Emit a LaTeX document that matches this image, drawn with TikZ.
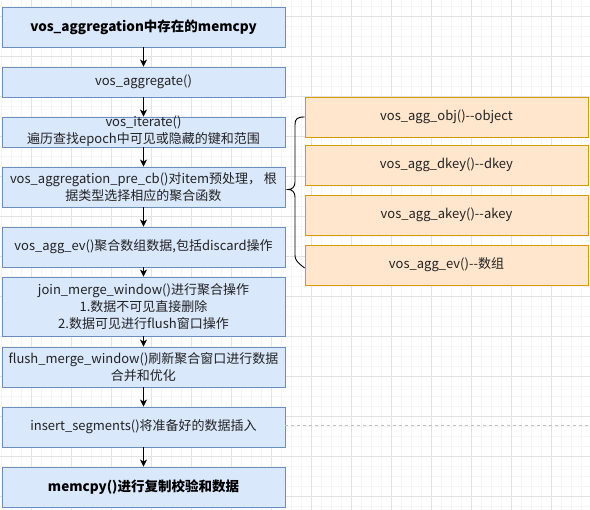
\documentclass[tikz,border=0pt]{standalone}
\usepackage{fontspec}
\setmainfont{Noto Sans CJK SC}
\usetikzlibrary{arrows.meta}
\definecolor{bfill}{HTML}{DAE8FC}
\definecolor{bdraw}{HTML}{6C8EBF}
\definecolor{ofill}{HTML}{FFE6CC}
\definecolor{odraw}{HTML}{D79B00}
\definecolor{gmajor}{HTML}{E2E2E2}
\definecolor{gminor}{HTML}{F5F5F5}
\definecolor{txtc}{HTML}{222222}
\tikzset{
  bluebox/.style={draw=bdraw, fill=bfill, line width=0.9pt, minimum width=283pt, inner sep=0pt},
  orangebox/.style={draw=odraw, fill=ofill, line width=0.9pt, minimum width=283pt, minimum height=40pt, inner sep=0pt},
  txt/.style={text=txtc, font=\fontsize{13}{16.8}\selectfont, align=center, inner sep=0pt},
  ttl/.style={text=black, font=\fontsize{13.5}{17}\selectfont\bfseries, align=center, inner sep=0pt},
  flow/.style={-{Stealth[length=7pt,width=7pt,inset=2pt]}, line width=0.9pt, black},
  brace/.style={draw=black, line width=0.9pt},
  guide/.style={draw=black!25, dashed, dash pattern=on 3pt off 3pt, line width=0.7pt}
}
\begin{document}
\begin{tikzpicture}[x=1pt,y=-1pt]
\fill[white] (0,0) rectangle (590,510);
\useasboundingbox (0,0) rectangle (590,510);
% grid
\foreach \i in {1,11,...,581} \draw[gminor, line width=0.8pt] (\i,0) -- (\i,510);
\foreach \j in {6,16,...,506} \draw[gminor, line width=0.8pt] (0,\j) -- (590,\j);
\foreach \i in {31,71,...,591} \draw[gmajor, line width=0.8pt] (\i,0) -- (\i,510);
\foreach \j in {16,56,...,496} \draw[gmajor, line width=0.8pt] (0,\j) -- (590,\j);

% left column
\node[bluebox, minimum height=40pt] (b1) at (143.5,27) {};
\node[bluebox, minimum height=30pt] (b2) at (143.5,82) {};
\node[bluebox, minimum height=30pt] (b3) at (143.5,132) {};
\node[bluebox, minimum height=40pt] (b4) at (143.5,187) {};
\node[bluebox, minimum height=40pt] (b5) at (143.5,247) {};
\node[bluebox, minimum height=59pt] (b6) at (143.5,306.5) {};
\node[bluebox, minimum height=40pt] (b7) at (143.5,367) {};
\node[bluebox, minimum height=40pt] (b8) at (143.5,427) {};
\node[bluebox, minimum height=40pt] (b9) at (143.5,487) {};

\node[ttl] (t1) at (b1) {vos\_aggregation中存在的memcpy};
\node[txt] (t2) at (b2) {vos\_aggregate()};
\node[txt] (t3) at ([yshift=0.5pt]b3.center) {vos\_iterate()\\遍历查找epoch中可见或隐藏的键和范围};
\node[txt] (t4) at (b4) {vos\_aggregation\_pre\_cb()对item预处理， 根\\据类型选择相应的聚合函数};
\node[txt] (t5) at (b5) {vos\_agg\_ev()聚合数组数据,包括discard操作};
\node[txt] (t6) at (b6) {join\_merge\_window()进行聚合操作\\1.数据不可见直接删除\\2.数据可见进行flush窗口操作};
\node[txt] (t7) at (b7) {flush\_merge\_window()刷新聚合窗口进行数据\\合并和优化};
\node[txt] (t8) at (b8) {insert\_segments()将准备好的数据插入};
\node[ttl] (t9) at (b9) {memcpy()进行复制校验和数据};

% right column
\node[orangebox] (o1) at (446.5,117) {};
\node[orangebox] (o2) at (446.5,165) {};
\node[orangebox] (o3) at (446.5,215) {};
\node[orangebox] (o4) at (446.5,265) {};
\node[txt] at (o1) {vos\_agg\_obj()-{}-object};
\node[txt] at (o2) {vos\_agg\_dkey()-{}-dkey};
\node[txt] at (o3) {vos\_agg\_akey()-{}-akey};
\node[txt] at (o4) {vos\_agg\_ev()-{}-数组};

% arrows
\draw[flow] (b1) -- (b2);
\draw[flow] (b2) -- (b3);
\draw[flow] (b3) -- (b4);
\draw[flow] (b4) -- (b5);
\draw[flow] (b5) -- (b6);
\draw[flow] (b6) -- (b7);
\draw[flow] (b7) -- (b8);
\draw[flow] (b8) -- (b9);

% brace
\coordinate (bt) at (o1.west);
\coordinate (bb) at ([yshift=-3pt]o4.west);
\coordinate (bm) at (288,189.5);
\draw[brace] (bt) .. controls (297,117) and (295,119) .. (295,125)
  -- (295,182) .. controls (295,187) and (292,189.5) .. (bm)
  .. controls (292,189.5) and (295,192) .. (295,197)
  -- (295,255) .. controls (295,260) and (297,262) .. (bb);

% dashed guide
\coordinate (gr) at (590,425);
\draw[guide] (b8.east |- gr) -- (gr);
\end{tikzpicture}
\end{document}
